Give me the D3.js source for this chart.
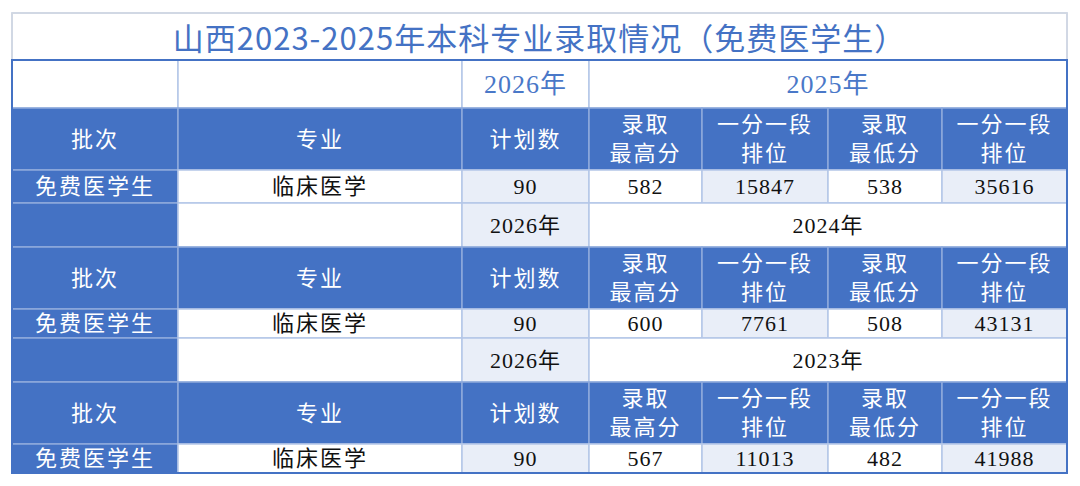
<!DOCTYPE html><html><head><meta charset="utf-8"><script src="https://cdn.jsdelivr.net/npm/d3@7"></script>
<style>body{margin:0;background:#fff}</style></head><body><svg id="c" width="1080" height="486"></svg><script>
const title="山西2023-2025年本科专业录取情况（免费医学生）";
const planYear="2026年";
const years=["2025年","2024年","2023年"];
const batch="免费医学生";
const major="临床医学";
const plan=[90,90,90];
const maxScore=[582,600,567];
const maxRank=[15847,7761,11013];
const minScore=[538,508,482];
const minRank=[35616,43131,41988];
const headers=[["批次"],["专业"],["计划数"],["录取","最高分"],["一分一段","排位"],["录取","最低分"],["一分一段","排位"]];

const colX=[12,178,462,589,702,828,942,1067];
const sections=[[60,108,170,203],[203,247,309,338],[338,382,444,473]];
const BLUE="#4472C4",LIGHT="#E9EEF8",LINE="#B4C6E7";
const FONT="'Liberation Serif','Noto Sans CJK SC',serif";
const svg=d3.select("#c");
const cells=[];
function cell(c0,c1,y0,y1,fill,lines,color,size,font){cells.push({x0:colX[c0],x1:colX[c1],y0,y1,fill,lines,color,size,font:font||FONT});}
cell(0,7,13,60,"#fff",[title],BLUE,31,"'Noto Sans CJK SC',sans-serif");
sections.forEach((s,i)=>{
  const [a,b,c,d]=s;
  const first=i===0;
  cell(0,1,a,b,first?"#fff":BLUE,[],"#000",22);
  cell(1,2,a,b,"#fff",[],"#000",22);
  cell(2,3,a,b,first?"#fff":LIGHT,[planYear],first?"#4a78c8":"#111",first?26:22);
  cell(3,7,a,b,"#fff",[years[i]],first?"#4a78c8":"#111",first?26:22);
  headers.forEach((h,j)=>{ if(j===0) cell(0,1,b,c,BLUE,h,"#fff",22); else cell(j,j+1,b,c,BLUE,h,"#fff",22);});
  const vals=[batch,major,plan[i],maxScore[i],maxRank[i],minScore[i],minRank[i]];
  vals.forEach((v,j)=>cell(j,j+1,c,d,j===0?BLUE:(j===2||j===4||j===6)?LIGHT:"#fff",[String(v)],j===0?"#fff":"#111",22));
});
const g=svg.selectAll("g.cell").data(cells).join("g");
g.append("rect").attr("x",d=>d.x0).attr("y",d=>d.y0).attr("width",d=>d.x1-d.x0).attr("height",d=>d.y1-d.y0)
 .attr("fill",d=>d.fill).attr("stroke",d=>d.fill===BLUE?"#8faadc":LINE).attr("stroke-width",1.5);
g.each(function(d){
  const n=d.lines.length, lh=d.size*1.28, cy=(d.y0+d.y1)/2;
  d3.select(this).selectAll("text").data(d.lines).join("text")
   .attr("x",(d.x0+d.x1)/2).attr("y",(t,k)=>cy+(k-(n-1)/2)*lh)
   .attr("text-anchor","middle").attr("dominant-baseline","central")
   .attr("fill",d.color).attr("font-size",d.size).attr("font-family",d.font).attr("letter-spacing",d.lines[0]&&/\d/.test(d.lines[0])?1:2).text(t=>t);
});
svg.append("rect").attr("x",12).attr("y",13).attr("width",1055).attr("height",460).attr("fill","none").attr("stroke","#dcdcdc").attr("stroke-width",1);
svg.append("rect").attr("x",12).attr("y",60).attr("width",1055).attr("height",413).attr("fill","none").attr("stroke",BLUE).attr("stroke-width",2);
</script></body></html>
